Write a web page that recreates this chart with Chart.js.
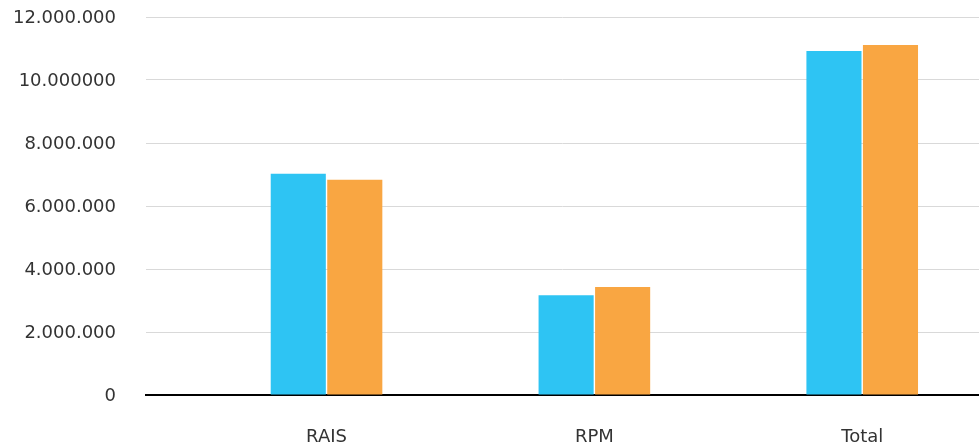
<!DOCTYPE html>
<html>
<head>
<meta charset="utf-8">
<script src="https://cdn.jsdelivr.net/npm/chart.js@4/dist/chart.umd.min.js"></script>
<style>
  html, body { margin: 0; padding: 0; background: #fff; overflow: hidden; }
  #wrap { width: 979px; height: 447px; position: relative; }
</style>
</head>
<body>
<div id="wrap"><canvas id="c" width="979" height="447"></canvas></div>
<script>
// Categories along the x axis
const categories = ["RAIS", "RPM", "Total"];
// Two series per category
const seriesA = [7020000, 3170000, 10920000];
const seriesB = [6830000, 3430000, 11110000];
// Y-axis tick labels, one per 2.000.000 step
const yTickLabels = ["0", "2.000.000", "4.000.000", "6.000.000", "8.000.000", "10.000000", "12.000.000"];
const yStep = 2000000;

const toPoints = (arr) => arr.map((v, i) => ({ x: i, y: v }));

const tickFont = { family: "'DejaVu Sans', sans-serif", size: 18 };
const textColor = "#333333";

new Chart(document.getElementById("c"), {
  type: "bar",
  data: {
    datasets: [
      { label: "Série 1", data: toPoints(seriesA), backgroundColor: "#2ec4f3" },
      { label: "Série 2", data: toPoints(seriesB), backgroundColor: "#f9a642" }
    ]
  },
  options: {
    responsive: false,
    animation: false,
    events: [],
    categoryPercentage: 0.422,
    barPercentage: 0.975,
    layout: { padding: { top: 17, right: 0, left: 0, bottom: 0 } },
    plugins: { legend: { display: false }, tooltip: { enabled: false } },
    scales: {
      x: {
        type: "linear",
        min: -0.674,
        max: 2.436,
        offset: false,
        afterBuildTicks: (scale) => { scale.ticks = categories.map((c, i) => ({ value: i })); },
        afterFit: (scale) => { scale.height = 52; },
        grid: { display: false, drawTicks: false },
        border: { display: true, color: "#000000", width: 2 },
        ticks: {
          autoSkip: false,
          maxRotation: 0,
          padding: 32,
          color: textColor,
          font: tickFont,
          callback: (v) => categories[v] ?? ""
        }
      },
      y: {
        min: 0,
        max: 12000000,
        afterFit: (scale) => {
          scale.width = 146;
          scale.paddingTop = 0;
          scale.paddingBottom = 0;
        },
        grid: { color: "#d9d9d9", lineWidth: 1, drawTicks: false },
        border: { display: false },
        ticks: {
          stepSize: yStep,
          padding: 30,
          labelOffset: 1,
          color: textColor,
          font: tickFont,
          callback: (v) => yTickLabels[Math.round(v / yStep)]
        }
      }
    }
  }
});
</script>
</body>
</html>
